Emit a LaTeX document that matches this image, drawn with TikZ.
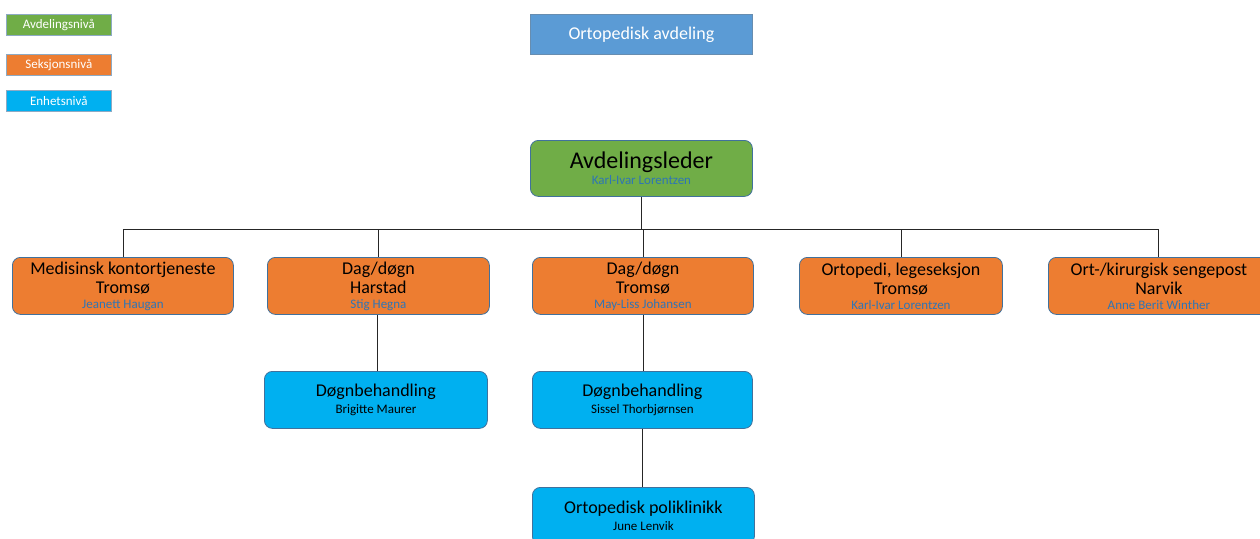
\documentclass[tikz,border=0pt]{standalone}
\usepackage{fontspec}
\setmainfont{Carlito}
\definecolor{cgreen}{HTML}{70AD47}
\definecolor{corange}{HTML}{ED7D31}
\definecolor{ccyan}{HTML}{00B0F0}
\definecolor{cblue}{HTML}{5B9BD5}
\definecolor{cborder}{HTML}{41719C}
\definecolor{cname}{HTML}{2E75B6}
\newcommand{\nmtext}[1]{{\fontsize{13}{15}\selectfont\color{cname}#1}}
\newcommand{\nmblack}[1]{{\fontsize{13}{15}\selectfont #1}}
\begin{document}
\begin{tikzpicture}[x=1pt,y=-1pt,
  box/.style={draw=cborder, line width=0.8pt, rounded corners=8pt, align=center, inner sep=0pt, anchor=north west},
  legend/.style={draw=cborder!60, line width=0.6pt, align=center, inner sep=0pt, anchor=north west, text=white, font=\fontsize{13}{14}\selectfont},
  conn/.style={draw=black!85, line width=0.8pt},
]
\useasboundingbox (0,0) rectangle (1260,538);
\fill[white] (0,0) rectangle (1260,538);
% legend
\node[legend, fill=cgreen, minimum width=105pt, minimum height=21pt] (lg1) at (6,14) {Avdelingsnivå};
\node[legend, fill=corange, minimum width=105pt, minimum height=21pt] (lg2) at (6,54) {Seksjonsnivå};
\node[legend, fill=ccyan, minimum width=105pt, minimum height=21pt] (lg3) at (6,90) {Enhetsnivå};
% title
\node[box, draw=cborder!80, rounded corners=0pt, fill=cblue, text=white, minimum width=222pt, minimum height=40pt, font=\fontsize{18}{20}\selectfont] (title) at (530,14) {Ortopedisk avdeling};
% leader
\node[box, fill=cgreen, minimum width=222pt, minimum height=56pt] (lead) at (530,140) {\fontsize{24}{26}\selectfont Avdelingsleder\\[2pt]\nmtext{Karl-Ivar Lorentzen}};
% sections
\tikzset{sec/.style={box, fill=corange, minimum height=57pt, font=\fontsize{18}{19}\selectfont}}
\node[sec, minimum width=221pt] (s1) at (12,257) {Medisinsk kontortjeneste\\Tromsø\\[-4pt]\nmtext{Jeanett Haugan}};
\node[sec, minimum width=222pt] (s2) at (267,257) {Dag/døgn\\Harstad\\[-4pt]\nmtext{Stig Hegna}};
\node[sec, minimum width=221pt] (s3) at (532,257) {Dag/døgn\\Tromsø\\[-4pt]\nmtext{May-Liss Johansen}};
\node[sec, minimum width=203pt] (s4) at (799,257) {Ortopedi, legeseksjon\\Tromsø\\[-4pt]\nmtext{Karl-Ivar Lorentzen}};
\node[sec, minimum width=221pt] (s5) at (1048,257) {Ort-/kirurgisk sengepost\\Narvik\\[-4pt]\nmtext{Anne Berit Winther}};
% units
\tikzset{unit/.style={box, fill=ccyan, minimum height=57pt, font=\fontsize{18}{19}\selectfont}}
\node[unit, minimum width=223pt] (u1) at (264,371) {Døgnbehandling\\[-2pt]\nmblack{Brigitte Maurer}};
\node[unit, minimum width=220pt] (u2) at (532,371) {Døgnbehandling\\[-2pt]\nmblack{Sissel Thorbjørnsen}};
\node[unit, minimum width=222pt] (u3) at (532,487) {Ortopedisk poliklinikk\\[-2pt]\nmblack{June Lenvik}};
% connectors
\coordinate (bus) at (641,229);
\draw[conn] (lead.south) -- (lead.south |- bus);
\draw[conn] (s1.north |- bus) -- ([xshift=-1pt]s5.north |- bus);
\foreach \s in {s1,s2,s3,s4} {\draw[conn] (\s.north |- bus) -- (\s.north);}
\draw[conn] ([xshift=-1pt]s5.north |- bus) -- ([xshift=-1pt]s5.north);
\draw[conn] ([xshift=-1pt]s2.south) -- ([xshift=-1pt]s2.south |- u1.north);
\draw[conn] (s3.south) -- (s3.south |- u2.north);
\draw[conn] (u2.south) -- (u2.south |- u3.north);
\end{tikzpicture}
\end{document}
